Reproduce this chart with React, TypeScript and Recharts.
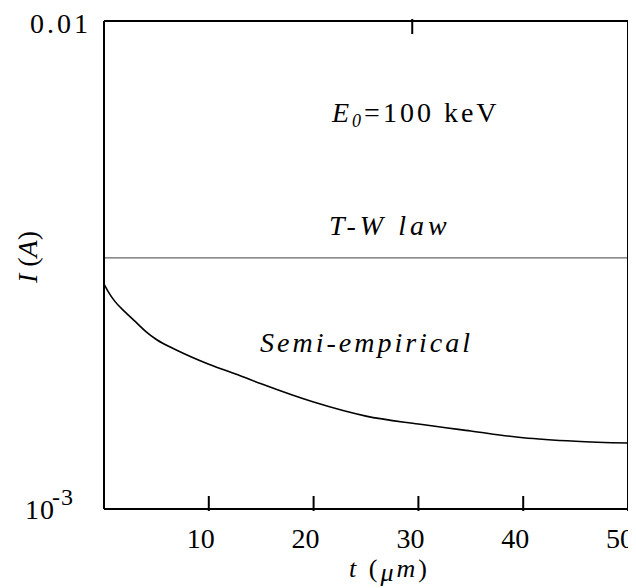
import React from 'react';
import {
  ComposedChart,
  Line,
  XAxis,
  YAxis,
  ReferenceLine,
  Customized,
} from 'recharts';

// thickness t (um) and current I (A)
const thickness = [0, 0.4, 1, 2, 3, 4, 5, 7, 10, 13, 15, 20, 25, 30, 35, 40, 45, 50];
const semiEmpirical = [
  2.89e-3, 2.79e-3, 2.67e-3, 2.535e-3, 2.42e-3, 2.31e-3, 2.225e-3, 2.113e-3, 1.98e-3,
  1.875e-3, 1.805e-3, 1.656e-3, 1.55e-3, 1.493e-3, 1.445e-3, 1.4e-3, 1.377e-3, 1.365e-3,
];
const twLaw = 3.27e-3;

const xTicks = [10, 20, 30, 40, 50];
const topTicks = [10, 20, 30, 40];
const yTicks = [0.001, 0.01];

const FONT = 'Liberation Serif, Times New Roman, DejaVu Serif, serif';
const txt = { fontFamily: FONT };

const data = thickness.map((t, i) => ({ t, semi: semiEmpirical[i] }));

function BottomTick(props: any) {
  const { x, y, payload } = props;
  return (
    <g>
      <line x1={x} y1={y} x2={x} y2={y - 15} stroke="#000" strokeWidth={2} />
      <text x={x - 8} y={y + 37} textAnchor="middle" style={txt} fontSize={28} fill="#000">
        {payload.value}
      </text>
    </g>
  );
}

function TopTick(props: any) {
  const { x, y } = props;
  return <line x1={x} y1={y} x2={x} y2={y + 15} stroke="#000" strokeWidth={2} />;
}

function LeftTick(props: any) {
  const { x, y, payload } = props;
  if (payload.value >= 0.01) {
    return (
      <text
        x={x - 11}
        y={y + 12}
        textAnchor="end"
        style={txt}
        fontSize={28}
        letterSpacing={3}
        fill="#000"
      >
        0.01
      </text>
    );
  }
  return (
    <text x={x - 77} y={y + 10} style={txt} fontSize={28} letterSpacing={1} fill="#000">
      10
      <tspan dx={-3} dy={-14} fontSize={24}>
        -3
      </tspan>
    </text>
  );
}

function Annotations() {
  return (
    <g style={txt} fill="#000">
      <text x={324} y={114} fontSize={28} letterSpacing={3} style={txt}>
        <tspan fontStyle="italic">E</tspan>
        <tspan fontStyle="italic" fontSize={18} dy={5}>0</tspan>
        <tspan dy={-5}>=100 keV</tspan>
      </text>
      <text x={321} y={227} fontSize={28} fontStyle="italic" letterSpacing={4} style={txt}>
        T-W law
      </text>
      <text x={252} y={344} fontSize={28} fontStyle="italic" letterSpacing={3} style={txt}>
        Semi-empirical
      </text>
      <text x={341} y={569} fontSize={26} letterSpacing={3} style={txt}>
        <tspan fontStyle="italic">t</tspan>
        <tspan> (</tspan>
        <tspan fontStyle="italic" dy={4}>μ</tspan>
        <tspan fontStyle="italic" dy={-4}>m</tspan>
        <tspan>)</tspan>
      </text>
      <text
        x={29}
        y={249}
        fontSize={28}
        textAnchor="middle"
        transform="rotate(-90 29 249)"
        style={txt}
      >
        <tspan fontStyle="italic">I</tspan>
        <tspan> (</tspan>
        <tspan fontStyle="italic">A</tspan>
        <tspan>)</tspan>
      </text>
    </g>
  );
}

export default function App() {
  return (
    <ComposedChart
      width={628}
      height={580}
      data={data}
      margin={{ top: 12, right: 7, bottom: 78, left: 0 }}
    >
      <XAxis
        dataKey="t"
        type="number"
        domain={[0, 50]}
        ticks={xTicks}
        height={1}
        tickSize={0}
        tickLine={false}
        axisLine={{ stroke: '#000', strokeWidth: 2 }}
        tick={<BottomTick />}
        interval={0}
      />
      <XAxis
        xAxisId="top"
        orientation="top"
        type="number"
        domain={[0, 50]}
        ticks={topTicks}
        height={1}
        tickSize={0}
        tickLine={false}
        axisLine={{ stroke: '#000', strokeWidth: 2 }}
        tick={<TopTick />}
        interval={0}
      />
      <YAxis
        scale="log"
        domain={[0.001, 0.01]}
        ticks={yTicks}
        allowDataOverflow
        width={96}
        tickSize={0}
        tickLine={false}
        axisLine={{ stroke: '#000', strokeWidth: 2 }}
        tick={<LeftTick />}
        interval={0}
      />
      <YAxis
        yAxisId="right"
        orientation="right"
        domain={[0, 1]}
        width={1}
        tick={false}
        tickLine={false}
        axisLine={{ stroke: '#000', strokeWidth: 2 }}
      />
      <ReferenceLine y={twLaw} stroke="#666" strokeWidth={1.2} />
      <Line
        dataKey="semi"
        type="monotone"
        stroke="#000"
        strokeWidth={1.6}
        dot={false}
        isAnimationActive={false}
      />
      <Customized component={<Annotations />} />
    </ComposedChart>
  );
}
